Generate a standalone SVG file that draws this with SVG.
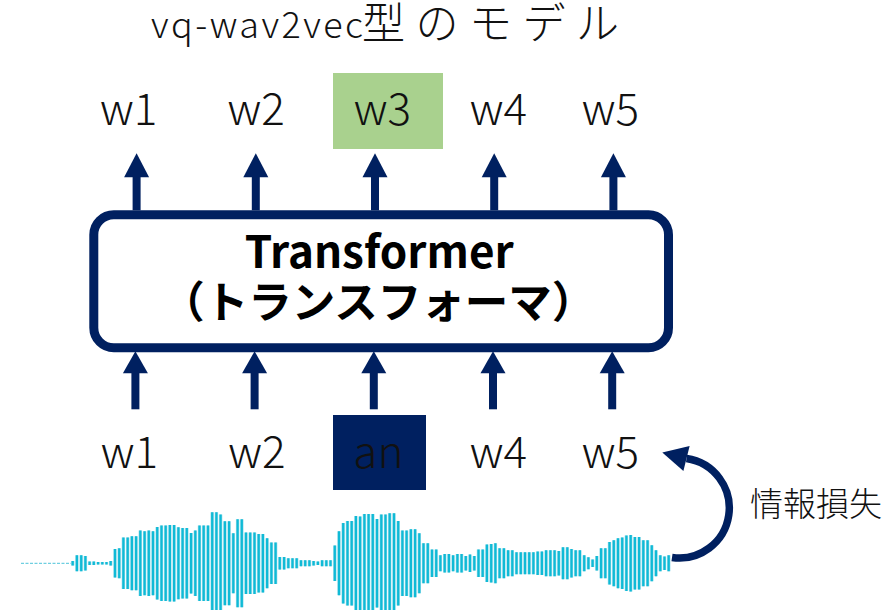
<svg xmlns="http://www.w3.org/2000/svg" xmlns:xlink="http://www.w3.org/1999/xlink" width="892" height="610" viewBox="0 0 892 610">
  <style>
    .lbl { font-family: "Noto Sans CJK JP", "Liberation Sans", sans-serif; font-size: 44px; font-weight: 300; fill: #111; text-anchor: middle; }
    .title { font-family: "Noto Sans CJK JP", "Liberation Sans", sans-serif; font-weight: 300; fill: #111; }
    .box-text { font-family: "Noto Sans CJK JP", "Liberation Sans", sans-serif; font-weight: 700; fill: #000; text-anchor: middle; }
    .note { font-family: "Noto Sans CJK JP", sans-serif; font-size: 33px; font-weight: 300; fill: #111; }
    .shaft { stroke: #002060; stroke-width: 8; fill: none; }
    .head { fill: #002060; }
  </style>
  <defs>
    <!-- upward arrow: shaft + head, origin at the tip -->
    <g id="up-arrow-top">
      <line class="shaft" x1="0" y1="22" x2="0" y2="57"/>
      <polygon class="head" points="0,0 12.5,24 -12.5,24"/>
    </g>
    <g id="up-arrow-bottom">
      <line class="shaft" x1="0" y1="20" x2="0" y2="58"/>
      <polygon class="head" points="0,0 12.5,22 -12.5,22"/>
    </g>
    <path id="wave" d="M72.7 561v4.6M76.9 555.3v16M81.2 555.3v16M85.4 556v14.6M89.6 561.6v3.4M93.8 561.6v3.4M98.1 562v2.6M102.3 562v2.6M106.5 562v2.6M110.7 561v4.6M115 549v28.6M119.2 548.3v30M123.4 537.6v51.4M127.7 537.6v51.4M131.9 536.3v54M136.1 536.3v54M140.3 530.6v65.4M144.6 531.3v64M148.8 530.6v65.4M153 531.3v64M157.2 527v72.6M161.5 525.6v75.4M165.7 525.6v75.4M169.9 525v76.6M174.1 525v76.6M178.4 527.3v72M182.6 528v70.6M186.8 528v70.6M191.1 533v60.6M195.3 530.6v65.4M199.5 525.6v75.4M203.7 525.6v75.4M208 525.6v75.4M212.2 512.3v102M216.4 512.3v102M220.6 514.6v97.4M224.9 521.3v84M229.1 521.3v84M233.3 533.3v60M237.6 519.3v88M241.8 519.3v88M246 532.6v61.4M250.2 532.6v61.4M254.5 532.6v61.4M258.7 534v58.6M262.9 534v58.6M267.1 538.3v50M271.4 542.6v41.4M275.6 542.6v41.4M279.8 557v12.6M284.1 557v12.6M288.3 558.3v10M292.5 558.3v10M296.7 558.3v10M301 560.3v6M305.2 560.3v6M309.4 560.3v6M313.6 561v4.6M317.9 561.6v3.4M322.1 560.3v6M326.3 560.3v6M330.5 560.3v6M334.8 545.6v35.4M339 531.3v64M343.2 523v80.6M347.5 521v84.6M351.7 521v84.6M355.9 516v94.6M360.1 516.6v93.4M364.4 514v98.6M368.6 514v98.6M372.8 514v98.6M377 519v88.6M381.3 514.6v97.4M385.5 514.6v97.4M389.7 513.3v100M394 513.3v100M398.2 521v84.6M402.4 530.6v65.4M406.6 530.6v65.4M410.9 529.3v68M415.1 529.3v68M419.3 533.3v60M423.5 543.3v40M427.8 543.3v40M432 549.6v27.4M436.2 549.6v27.4M440.4 555.3v16M444.7 554v18.6M448.9 554v18.6M453.1 555.3v16M457.4 554v18.6M461.6 554v18.6M465.8 556v14.6M470 554.6v17.4M474.3 556v14.6M478.5 549.6v27.4M482.7 549.6v27.4M486.9 544.6v37.4M491.2 544v38.6M495.4 543.3v40M499.6 548.3v30M503.9 548.3v30M508.1 550.3v26M512.3 550.3v26M516.5 552.3v22M520.8 552.3v22M525 552.3v22M529.2 552.3v22M533.4 552.3v22M537.7 551.6v23.4M541.9 551.6v23.4M546.1 550.3v26M550.4 550.3v26M554.6 550.3v26M558.8 551v24.6M563 547.3v32M567.3 547.3v32M571.5 549v28.6M575.7 550.3v26M579.9 550.3v26M584.2 555.3v16M588.4 557.3v12M592.6 559.6v7.4M596.8 556v14.6M601.1 548.3v30M605.3 548.3v30M609.5 542v42.6M613.8 540.3v46M618 538.3v50M622.2 537.6v51.4M626.4 535.6v55.4M630.7 535v56.6M634.9 537v52.6M639.1 537v52.6M643.3 540.3v46M647.6 540.3v46M651.8 545.3v36M656 550.3v26M660.3 555.3v16M664.5 556.6v13.4M668.7 555.3v16"/>
  </defs>

  <!-- title -->
  <g id="title">
    <text class="title" x="151" y="38" font-size="36" textLength="212" lengthAdjust="spacing">vq-wav2vec</text>
    <text class="title" x="362" y="39" font-size="43" letter-spacing="10.5">型のモデル</text>
  </g>

  <!-- output tokens -->
  <g id="out-w1"><text class="lbl" x="128.7" y="125">w1</text></g>
  <g id="out-w2"><text class="lbl" x="256.2" y="125">w2</text></g>
  <g id="out-w3">
    <rect x="333" y="73" width="110" height="76" fill="#A9D18E"/>
    <text class="lbl" x="382.5" y="125">w3</text>
  </g>
  <g id="out-w4"><text class="lbl" x="498.4" y="125">w4</text></g>
  <g id="out-w5"><text class="lbl" x="610.5" y="125">w5</text></g>

  <!-- transformer block -->
  <g id="transformer">
    <rect x="93.8" y="214.7" width="574.7" height="133.1" rx="20" ry="20" fill="#fff" stroke="#002060" stroke-width="9"/>
    <text class="box-text" x="379.2" y="267.7" font-size="44">Transformer</text>
    <text class="box-text" x="378.3" y="318" font-size="43.5">（トランスフォーマ）</text>
  </g>

  <!-- input tokens -->
  <g id="in-w1"><text class="lbl" x="129.5" y="468">w1</text></g>
  <g id="in-w2"><text class="lbl" x="257" y="468">w2</text></g>
  <g id="in-an">
    <rect x="333" y="415" width="93" height="75" fill="#002060"/>
    <text class="lbl" x="378.4" y="468">an</text>
  </g>
  <g id="in-w4"><text class="lbl" x="498.4" y="468">w4</text></g>
  <g id="in-w5"><text class="lbl" x="610.5" y="468">w5</text></g>

  <!-- audio waveform -->
  <g id="waveform">
    <line x1="21" y1="563.3" x2="71" y2="563.3" stroke="#4CC3D9" stroke-width="1" stroke-dasharray="3 1.5"/>
    <use xlink:href="#wave" stroke="#9ADDEA" stroke-width="3.4"/>
    <use xlink:href="#wave" stroke="#0FBAD6" stroke-width="2.2"/>
  </g>

  <!-- information-loss label -->
  <g id="info-loss"><text class="note" x="750" y="516">情報損失</text></g>

  <!-- connectors -->
  <g id="connectors">
    <use xlink:href="#up-arrow-top" x="136.6" y="153.3"/>
    <use xlink:href="#up-arrow-top" x="255.8" y="153.3"/>
    <use xlink:href="#up-arrow-top" x="375" y="153.3"/>
    <use xlink:href="#up-arrow-top" x="494.2" y="153.3"/>
    <use xlink:href="#up-arrow-top" x="613.4" y="153.3"/>

    <use xlink:href="#up-arrow-bottom" x="135.4" y="351.3"/>
    <use xlink:href="#up-arrow-bottom" x="254.6" y="351.3"/>
    <use xlink:href="#up-arrow-bottom" x="373.8" y="351.3"/>
    <use xlink:href="#up-arrow-bottom" x="493" y="351.3"/>
    <use xlink:href="#up-arrow-bottom" x="612.2" y="351.3"/>

    <!-- curved arrow from the waveform end back to w5 -->
    <path d="M672 557.5 A50 50 0 0 0 686.5 458.5" fill="none" stroke="#002060" stroke-width="7.5"/>
    <polygon class="head" points="662.3,452.5 689.6,445.9 683.4,471.1"/>
  </g>
</svg>
